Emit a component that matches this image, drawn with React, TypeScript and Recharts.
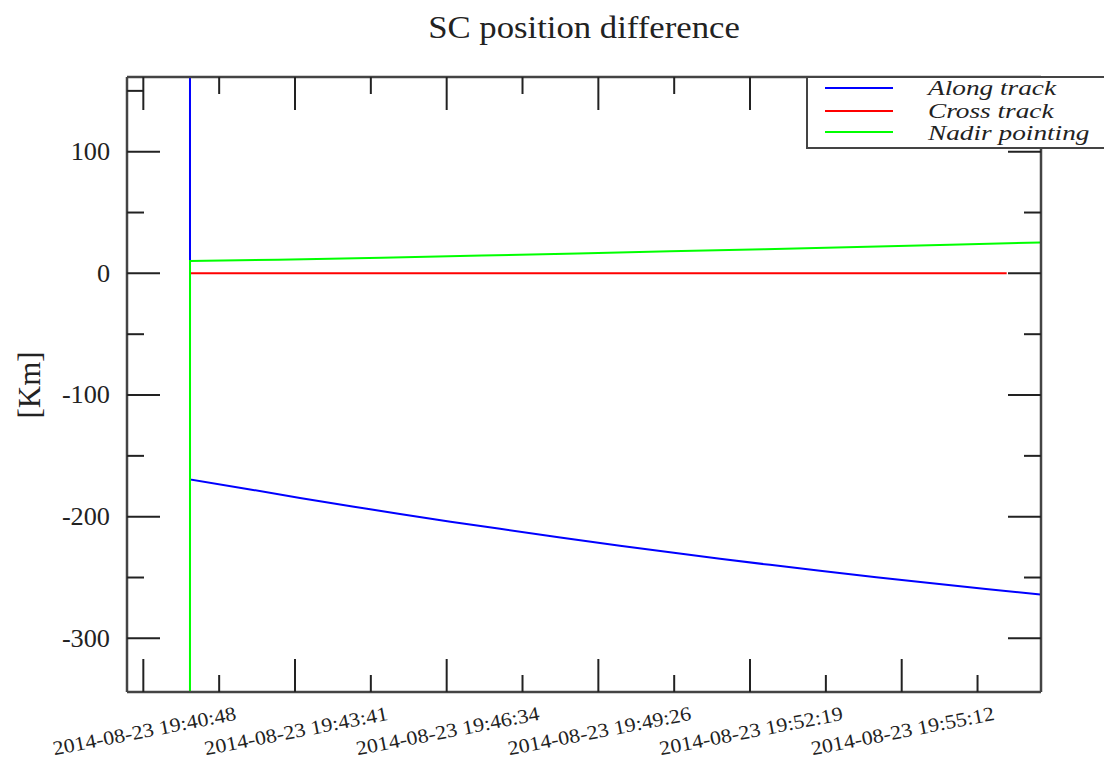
import { Legend, Line, LineChart, XAxis, YAxis } from "recharts";

const title = "SC position difference";
const yAxisName = "[Km]";

// time in seconds after 2014-08-23 19:40:48
const alongTime = [52.5, 53.2, 120, 178.5, 240, 292.4, 350, 406.4, 475, 543, 600, 657, 714, 771, 835, 896, 960, 1022];
const alongKm = [4800, -169.4, -177.4, -184.6, -191.8, -197.7, -204.1, -210.0, -217.2, -223.8, -229.3, -234.6, -239.6, -244.5, -249.8, -254.6, -259.4, -263.9];

const crossTime = [53.2, 250, 500, 750, 983.6];
const crossKm = [0, 0, 0, 0, 0];

const nadirTime = [52.5, 53.2, 153.4, 271.9, 385.8, 495, 600, 708, 813, 919, 1022];
const nadirKm = [-4800, 10.1, 11.2, 12.9, 14.6, 16.3, 18.1, 19.9, 21.7, 23.6, 25.4];

const xTicks = [0, 86.4, 172.8, 259.2, 345.6, 432, 518.4, 604.8, 691.2, 777.6, 864, 950.4];
const xTickLabels = [
  "2014-08-23 19:40:48",
  "2014-08-23 19:43:41",
  "2014-08-23 19:46:34",
  "2014-08-23 19:49:26",
  "2014-08-23 19:52:19",
  "2014-08-23 19:55:12",
];
const yTicks = [-300, -250, -200, -150, -100, -50, 0, 50, 100, 150];

const xDomain = [-18.6, 1022.7];
const yDomain = [-344.1, 161.4];

const toPoints = (ts: number[], vs: number[]) => ts.map((t, i) => ({ t, v: vs[i] }));

const series = [
  { name: "Along track", color: "#0000ff", data: toPoints(alongTime, alongKm) },
  { name: "Cross track", color: "#ff0000", data: toPoints(crossTime, crossKm) },
  { name: "Nadir pointing", color: "#00ff00", data: toPoints(nadirTime, nadirKm) },
];

const FONT = "'Liberation Serif', 'DejaVu Serif', serif";
const TEXT = "#222";
const FRAME = "#444";
const axisLine = { stroke: FRAME, strokeWidth: 2.5 };

const isMajorX = (v: number) => Math.round(v / 86.4) % 2 === 0;
const isMajorY = (v: number) => Math.round(v) % 100 === 0;

const BottomTick = ({ x, y, payload }: any) => {
  const major = isMajorX(payload.value);
  const label = xTickLabels[Math.round(payload.value / 172.8)];
  return (
    <g>
      <line x1={x} x2={x} y1={y} y2={y - (major ? 33 : 17)} stroke={TEXT} strokeWidth={2} />
      {major && (
        <text
          transform={`translate(${x + 1},${y + 39}) rotate(-11) scale(1.1,1)`}
          textAnchor="middle"
          dominantBaseline="central"
          fontSize={20}
          fontFamily={FONT}
          fill={TEXT}
        >
          {label}
        </text>
      )}
    </g>
  );
};

const TopTick = ({ x, y, payload }: any) => (
  <line x1={x} x2={x} y1={y} y2={y + (isMajorX(payload.value) ? 33 : 17)} stroke={TEXT} strokeWidth={2} />
);

const LeftTick = ({ x, y, payload }: any) => {
  const major = isMajorY(payload.value);
  return (
    <g>
      <line x1={x} x2={x + (major ? 33 : 17)} y1={y} y2={y} stroke={TEXT} strokeWidth={2} />
      {major && (
        <text
          transform={`translate(${x - 17},${y}) scale(1.05,1)`}
          textAnchor="end"
          dominantBaseline="central"
          fontSize={25}
          fontFamily={FONT}
          fill={TEXT}
        >
          {payload.value}
        </text>
      )}
    </g>
  );
};

const RightTick = ({ x, y, payload }: any) => (
  <line x1={x} x2={x - (isMajorY(payload.value) ? 33 : 17)} y1={y} y2={y} stroke={TEXT} strokeWidth={2} />
);

const LegendBox = ({ payload }: any) => {
  const lineY = [18, 41, 62];
  const textY = [25, 48, 70];
  return (
    <svg width={298} height={82} style={{ display: "block" }}>
      <rect x={1} y={7} width={340} height={71} fill="#fff" stroke={FRAME} strokeWidth={2} />
      {(payload || []).map((p: any, i: number) => (
        <g key={p.value}>
          <line x1={19} x2={87} y1={lineY[i]} y2={lineY[i]} stroke={p.color} strokeWidth={2} />
          <text
            transform={`translate(122,${textY[i]}) scale(1.3,1)`}
            fontSize={21}
            fontStyle="italic"
            fontFamily={FONT}
            fill={TEXT}
          >
            {p.value}
          </text>
        </g>
      ))}
    </svg>
  );
};

export default function App() {
  return (
    <div style={{ position: "absolute", left: 0, top: 0, width: 1104, height: 760, background: "#fff" }}>
      <LineChart width={1104} height={760} margin={{ top: 76, right: 62, bottom: 0, left: 0 }}>
        <XAxis
          xAxisId="bottom"
          type="number"
          dataKey="t"
          domain={xDomain}
          allowDataOverflow
          ticks={xTicks}
          interval={0}
          height={68}
          tickSize={0}
          tickMargin={0}
          tickLine={false}
          axisLine={axisLine}
          tick={(p: any) => <BottomTick {...p} />}
        />
        <XAxis
          xAxisId="top"
          orientation="top"
          type="number"
          dataKey="t"
          domain={xDomain}
          allowDataOverflow
          ticks={xTicks}
          interval={0}
          height={1}
          tickSize={0}
          tickMargin={0}
          tickLine={false}
          axisLine={axisLine}
          tick={(p: any) => <TopTick {...p} />}
        />
        <YAxis
          yAxisId="left"
          type="number"
          domain={yDomain}
          allowDataOverflow
          ticks={yTicks}
          interval={0}
          width={127}
          tickSize={0}
          tickMargin={0}
          tickLine={false}
          axisLine={axisLine}
          tick={(p: any) => <LeftTick {...p} />}
        />
        <YAxis
          yAxisId="right"
          orientation="right"
          type="number"
          domain={yDomain}
          allowDataOverflow
          ticks={yTicks}
          interval={0}
          width={1}
          tickSize={0}
          tickMargin={0}
          tickLine={false}
          axisLine={axisLine}
          tick={(p: any) => <RightTick {...p} />}
        />
        {series.map((s) => (
          <Line
            key={s.name}
            xAxisId="bottom"
            yAxisId="left"
            data={s.data}
            dataKey="v"
            name={s.name}
            type="linear"
            stroke={s.color}
            strokeWidth={2}
            dot={false}
            activeDot={false}
            isAnimationActive={false}
          />
        ))}
        <Legend
          layout="vertical"
          align="center"
          verticalAlign="middle"
          content={(p: any) => <LegendBox {...p} />}
          wrapperStyle={{ left: 806, top: 70, width: 298, height: 82 }}
        />
      </LineChart>
      <svg
        width={1104}
        height={760}
        style={{ position: "absolute", left: 0, top: 0, pointerEvents: "none" }}
      >
        <text
          transform="translate(584,38) scale(1.12,1)"
          textAnchor="middle"
          fontSize={31}
          fontFamily={FONT}
          fill={TEXT}
        >
          {title}
        </text>
        <text
          transform="translate(29,385) rotate(-90)"
          textAnchor="middle"
          dominantBaseline="central"
          fontSize={31}
          fontFamily={FONT}
          fill={TEXT}
        >
          {yAxisName}
        </text>
      </svg>
    </div>
  );
}
